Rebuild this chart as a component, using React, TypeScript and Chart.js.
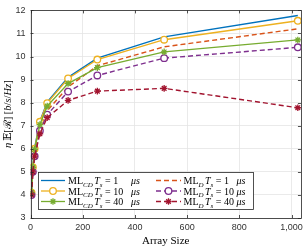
import React, { useEffect, useRef } from "react";
import { Chart, registerables } from "chart.js";
Chart.register(...registerables);

const arraySizes = [4, 9, 16, 36, 64, 144, 256, 512, 1024];
const mlcdTs1 = [4.1, 5.25, 6.05, 7.2, 8.02, 9.1, 9.93, 10.85, 11.78];
const mldTs1 = [4.0, 5.05, 5.85, 6.9, 7.65, 8.68, 9.6, 10.42, 11.2];
const mlcdTs10 = [4.1, 5.2, 6.0, 7.17, 7.98, 9.05, 9.87, 10.73, 11.55];
const mldTs10 = [4.0, 5.0, 5.68, 6.78, 7.48, 8.48, 9.18, 9.93, 10.4];
const mlcdTs40 = [4.1, 5.2, 5.98, 7.05, 7.85, 8.83, 9.52, 10.2, 10.72];
const mldTs40 = [4.0, 5.0, 5.68, 6.65, 7.35, 8.1, 8.5, 8.62, 7.78];
const xTicks = [0, 200, 400, 600, 800, 1000];
const yTicks = [3, 4, 5, 6, 7, 8, 9, 10, 11, 12];
const legendSubs = ["CD", "CD", "CD", "D", "D", "D"];
const legendTs = ["1", "10", "40", "1", "10", "40"];

const BLUE = "#0072BD";
const ORANGE = "#D95319";
const YELLOW = "#EDB120";
const PURPLE = "#7E2F8E";
const GREEN = "#77AC30";
const RED = "#A2142F";
const AXIS = "#262626";
const SERIF = "'Liberation Serif', 'DejaVu Serif', serif";
const DASH = [5, 3];

type Part = { t: string; it?: boolean; sub?: boolean; gap?: number };

function drawParts(ctx: CanvasRenderingContext2D, x: number, y: number, parts: Part[], size: number) {
  let cx = x;
  for (const p of parts) {
    cx += p.gap || 0;
    const fs = p.sub ? size * 0.7 : size;
    ctx.font = `${p.it ? "italic " : ""}${fs}px ${SERIF}`;
    ctx.fillText(p.t, cx, p.sub ? y + size * 0.28 : y);
    cx += ctx.measureText(p.t).width;
  }
  return cx;
}
function partsWidth(ctx: CanvasRenderingContext2D, parts: Part[], size: number) {
  let w = 0;
  for (const p of parts) {
    w += p.gap || 0;
    const fs = p.sub ? size * 0.7 : size;
    ctx.font = `${p.it ? "italic " : ""}${fs}px ${SERIF}`;
    w += ctx.measureText(p.t).width;
  }
  return w;
}

function drawMarker(ctx: CanvasRenderingContext2D, kind: string, x: number, y: number, color: string) {
  ctx.save();
  ctx.setLineDash([]);
  ctx.strokeStyle = color;
  ctx.lineWidth = 1.3;
  if (kind === "circle") {
    ctx.fillStyle = "#fff";
    ctx.beginPath();
    ctx.arc(x, y, 3.3, 0, Math.PI * 2);
    ctx.fill();
    ctx.stroke();
  } else if (kind === "star") {
    const r = 3.2;
    ctx.beginPath();
    for (let i = 0; i < 4; i++) {
      const a = (i * Math.PI) / 4;
      ctx.moveTo(x - r * Math.cos(a), y - r * Math.sin(a));
      ctx.lineTo(x + r * Math.cos(a), y + r * Math.sin(a));
    }
    ctx.stroke();
  }
  ctx.restore();
}

const legendStyle = [
  { color: BLUE, dash: false, marker: "none" },
  { color: YELLOW, dash: false, marker: "circle" },
  { color: GREEN, dash: false, marker: "star" },
  { color: ORANGE, dash: true, marker: "none" },
  { color: PURPLE, dash: true, marker: "circle" },
  { color: RED, dash: true, marker: "star" },
];

const decor = {
  id: "decor",
  afterDraw(chart: any) {
    const ctx: CanvasRenderingContext2D = chart.ctx;
    const { left, right, top, bottom } = chart.chartArea;
    const xs = chart.scales.x;
    const ys = chart.scales.y;
    ctx.save();
    // box
    ctx.strokeStyle = AXIS;
    ctx.lineWidth = 0.8;
    ctx.strokeRect(Math.round(left) + 0.5, Math.round(top) + 0.5, Math.round(right - left), Math.round(bottom - top));
    // inward ticks
    ctx.beginPath();
    for (const v of xTicks) {
      const px = Math.round(xs.getPixelForValue(v)) + 0.5;
      ctx.moveTo(px, bottom);
      ctx.lineTo(px, bottom - 3);
      ctx.moveTo(px, top);
      ctx.lineTo(px, top + 3);
    }
    for (const v of yTicks) {
      const py = Math.round(ys.getPixelForValue(v)) + 0.5;
      ctx.moveTo(left, py);
      ctx.lineTo(left + 3, py);
      ctx.moveTo(right, py);
      ctx.lineTo(right - 3, py);
    }
    ctx.stroke();

    // axis labels
    ctx.fillStyle = "#000";
    ctx.textBaseline = "alphabetic";
    ctx.font = `11px ${SERIF}`;
    ctx.textAlign = "center";
    ctx.fillText("Array Size", (left + right) / 2, 244);
    ctx.textAlign = "left";
    const yl: Part[] = [
      { t: "η", it: true },
      { t: "𝔼[", gap: 2 },
      { t: "ℛ" },
      { t: "] [" },
      { t: "b", it: true },
      { t: "/" },
      { t: "s", it: true },
      { t: "/" },
      { t: "Hz", it: true },
      { t: "]" },
    ];
    const yw = partsWidth(ctx, yl, 10.5);
    ctx.save();
    ctx.translate(11, (top + bottom) / 2);
    ctx.rotate(-Math.PI / 2);
    drawParts(ctx, -yw / 2, 0, yl, 10.5);
    ctx.restore();

    // legend
    const bx = 38.5, by = 172.5, bw = 215, bh = 37;
    ctx.fillStyle = "#fff";
    ctx.fillRect(bx, by, bw, bh);
    ctx.strokeStyle = AXIS;
    ctx.lineWidth = 0.8;
    ctx.strokeRect(bx, by, bw, bh);
    const rowsY = [180.5, 191, 201.5];
    for (let i = 0; i < 6; i++) {
      const col = i < 3 ? 0 : 1;
      const row = i % 3;
      const st = legendStyle[i];
      const ly = rowsY[row];
      const x0 = col === 0 ? 41 : 156;
      const x1 = col === 0 ? 65 : 181;
      ctx.save();
      ctx.strokeStyle = st.color;
      ctx.lineWidth = 1.3;
      ctx.setLineDash(st.dash ? DASH : []);
      ctx.beginPath();
      ctx.moveTo(x0, ly);
      ctx.lineTo(x1, ly);
      ctx.stroke();
      ctx.restore();
      drawMarker(ctx, st.marker, (x0 + x1) / 2, ly, st.color);
      ctx.fillStyle = "#000";
      const tx = col === 0 ? 68 : 183.5;
      const parts: Part[] = [
        { t: "ML" },
        { t: legendSubs[i], it: true, sub: true },
        { t: "T", it: true, gap: 1.5 },
        { t: "s", it: true, sub: true },
        { t: "=", gap: 2.5 },
        { t: legendTs[i], gap: 2.5 },
      ];
      drawParts(ctx, tx, ly + 3.5, parts, 10);
      drawParts(ctx, col === 0 ? 131 : 236.5, ly + 3.5, [{ t: "μs", it: true }], 10);
    }
    ctx.restore();
  },
};

function mk(label: string, data: number[], color: string, dashed: boolean, marker: string | false, order: number) {
  return {
    label,
    data: arraySizes.map((x, i) => ({ x, y: data[i] })),
    borderColor: color,
    backgroundColor: marker === "circle" ? "#fff" : color,
    borderWidth: 1.4,
    borderDash: dashed ? DASH : [],
    pointStyle: marker === "star" ? "star" : "circle",
    pointRadius: marker ? 3.3 : 0,
    pointBorderWidth: 1.3,
    pointBorderColor: color,
    pointBackgroundColor: marker === "circle" ? "#fff" : color,
    tension: 0,
    order,
  };
}

export default function App() {
  const ref = useRef<HTMLCanvasElement>(null);
  useEffect(() => {
    document.body.style.margin = "0";
    const chart = new Chart(ref.current!, {
      type: "line",
      data: {
        datasets: [
          mk("MLCD Ts=1", mlcdTs1, BLUE, false, false, 6),
          mk("MLD Ts=1", mldTs1, ORANGE, true, false, 5),
          mk("MLCD Ts=10", mlcdTs10, YELLOW, false, "circle", 4),
          mk("MLD Ts=10", mldTs10, PURPLE, true, "circle", 3),
          mk("MLCD Ts=40", mlcdTs40, GREEN, false, "star", 2),
          mk("MLD Ts=40", mldTs40, RED, true, "star", 1),
        ] as any,
      },
      options: {
        animation: false,
        responsive: true,
        maintainAspectRatio: false,
        layout: { padding: { left: 0, right: 4, top: 5, bottom: 0 } },
        plugins: { legend: { display: false }, tooltip: { enabled: false } },
        scales: {
          x: {
            type: "linear",
            min: 0,
            max: 1036,
            afterBuildTicks: (s: any) => {
              s.ticks = xTicks.map((v) => ({ value: v }));
            },
            afterFit: (s: any) => {
              s.height = 30;
            },
            ticks: {
              color: "#333",
              font: { family: "'Liberation Sans', Arial, sans-serif", size: 9 },
              padding: 4,
              maxRotation: 0,
            },
            grid: { color: "#e5e5e5", lineWidth: 0.8, drawTicks: false },
            border: { display: false },
          },
          y: {
            type: "linear",
            min: 3,
            max: 12,
            afterBuildTicks: (s: any) => {
              s.ticks = yTicks.map((v) => ({ value: v }));
            },
            afterFit: (s: any) => {
              s.width = 30.5;
            },
            ticks: {
              color: "#333",
              font: { family: "'Liberation Sans', Arial, sans-serif", size: 9 },
              padding: 5,
            },
            grid: { color: "#e5e5e5", lineWidth: 0.8, drawTicks: false },
            border: { display: false },
          },
        },
      } as any,
      plugins: [decor],
    });
    return () => chart.destroy();
  }, []);
  return (
    <div style={{ position: "absolute", left: 0, top: 0, width: 307, height: 248 }}>
      <canvas ref={ref} />
    </div>
  );
}
